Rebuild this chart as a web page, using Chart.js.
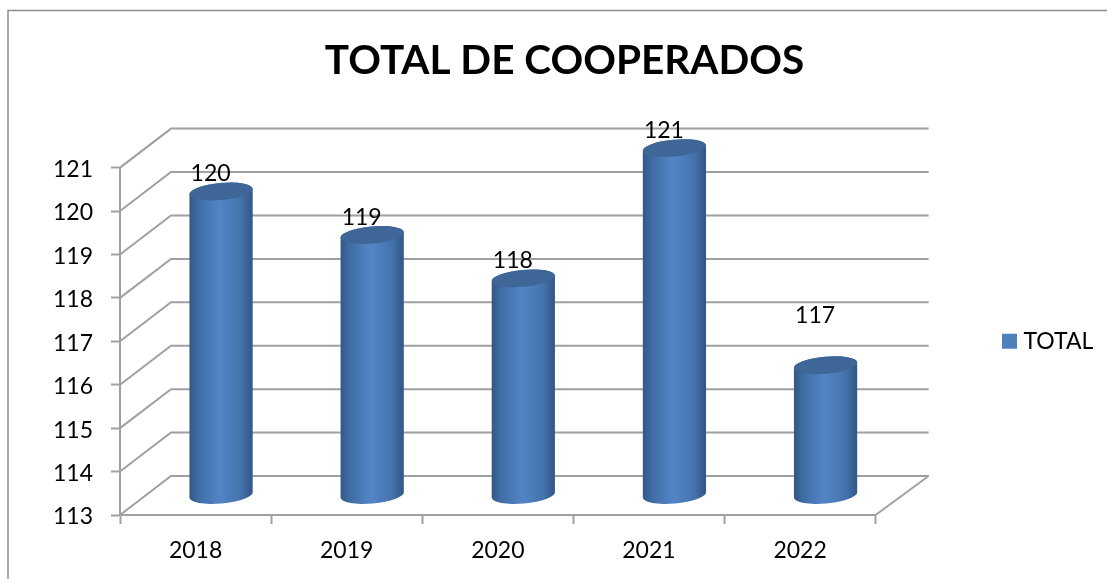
<!DOCTYPE html>
<html>
<head>
<meta charset="utf-8">
<style>
  html, body { margin: 0; padding: 0; background: #fff; }
  canvas { display: block; }
</style>
<script src="https://cdn.jsdelivr.net/npm/chart.js@4/dist/chart.umd.js"></script>
</head>
<body>
<canvas id="chart" width="1107" height="579"></canvas>
<script>
var years = ['2018', '2019', '2020', '2021', '2022'];
var totals = [120, 119, 118, 121, 116];
// the picture labels the last bar 117 although it is drawn at 116
var valueLabels = ['120', '119', '118', '121', '117'];
var seriesName = 'TOTAL';
var chartTitle = 'TOTAL DE COOPERADOS';

var gray = '#a0a0a0';
var depthX = 51, depthY = 39;

var frame3d = {
    id: 'frame3d',
    afterLayout: function (chart) {
        // title and legend do not sit where the layout wants them
        chart.titleBlock.left = 22;
        chart.titleBlock.right = 1107;
        chart.legend.left = 997;
        chart.legend.right = 1107;
    },
    beforeDatasetsDraw: function (chart) {
        var c = chart.ctx, y = chart.scales.y, area = chart.chartArea;
        c.save();
        // outer border of the chart object
        c.strokeStyle = '#8e8e8e';
        c.lineWidth = 1.5;
        c.beginPath();
        c.moveTo(8, 579);
        c.lineTo(8, 10.5);
        c.lineTo(1107, 10.5);
        c.stroke();
        // back wall
        c.strokeStyle = gray;
        c.lineWidth = 2;
        y.ticks.forEach(function (t) {
            var py = y.getPixelForValue(t.value);
            c.beginPath();
            c.moveTo(area.left, py);
            c.lineTo(area.left + depthX, py - depthY);
            c.lineTo(area.right + depthX + 2, py - depthY);
            c.stroke();
        });
        // floor edge
        c.beginPath();
        c.moveTo(area.right, area.bottom);
        c.lineTo(area.right + depthX + 2, area.bottom - depthY);
        c.stroke();
        c.restore();
    },
    beforeDatasetDraw: function (chart, args) {
        var c = chart.ctx;
        args.meta.data.forEach(function (bar, i) {
            var a = bar.width / 2, b = 8.5, rot = -0.09;
            var cx = bar.x + depthX / 2;
            var top = bar.y - depthY / 2, bottom = bar.base - depthY / 2;

            var g = c.createLinearGradient(cx - a, 0, cx + a, 0);
            g.addColorStop(0, '#315785');
            g.addColorStop(0.14, '#3f6ca4');
            g.addColorStop(0.48, '#5385c6');
            g.addColorStop(0.82, '#4472ac');
            g.addColorStop(1, '#315683');

            c.save();
            c.beginPath();
            c.ellipse(cx, bottom, a, b, rot, Math.PI, 0, true);
            c.ellipse(cx, top, a, b, rot, 0, Math.PI, true);
            c.closePath();
            c.fillStyle = g;
            c.fill();

            c.beginPath();
            c.ellipse(cx, top, a, b, rot, 0, Math.PI * 2);
            c.fillStyle = '#3e6696';
            c.fill();
            c.restore();
        });
        return false;
    },
    afterDatasetsDraw: function (chart) {
        var c = chart.ctx, meta = chart.getDatasetMeta(0);
        c.save();
        c.font = '23px Lato';
        c.fillStyle = '#000';
        c.textAlign = 'center';
        c.textBaseline = 'middle';
        valueLabels.forEach(function (text, i) {
            var py = chart.scales.y.getPixelForValue(Number(text));
            // last label was dragged down in the original
            var shift = i === 4 ? 11 : 0;
            c.fillText(text, meta.data[i].x + 15, py - 37 + shift);
        });
        c.restore();
    }
};

var ctx = document.getElementById('chart').getContext('2d');

var myChart = new Chart(ctx, {
    type: 'bar',
    data: {
        labels: years,
        datasets: [{
            label: seriesName,
            data: totals,
            base: 113,
            backgroundColor: '#4f81bd',
            // small box with a fat border: keeps the legend text close to the swatch
            borderColor: '#4f81bd',
            borderWidth: 10,
            barPercentage: 1,
            categoryPercentage: 0.42
        }]
    },
    plugins: [frame3d],
    options: {
        responsive: false,
        animation: false,
        layout: { padding: { left: 0, right: 125, top: 0, bottom: 0 } },
        plugins: {
            title: {
                display: true,
                text: chartTitle,
                color: '#000',
                font: { family: 'Lato', size: 40.5, weight: 'bold', lineHeight: 1.2 },
                padding: { top: 37, bottom: 82 }
            },
            legend: {
                position: 'right',
                fullSize: false,
                labels: {
                    color: '#000',
                    font: { family: 'Lato', size: 23 },
                    boxWidth: 5,
                    boxHeight: 5,
                    padding: 10
                }
            },
            tooltip: { enabled: false }
        },
        scales: {
            x: {
                afterFit: function (s) { s.height = 64; },
                border: { color: gray, width: 2 },
                grid: { offset: true, drawOnChartArea: false, tickLength: 9, tickColor: gray, tickWidth: 2 },
                ticks: { color: '#000', padding: 13, font: { family: 'Lato', size: 23 } }
            },
            y: {
                min: 113,
                max: 121,
                afterFit: function (s) { s.width = 120; },
                border: { color: gray, width: 2 },
                grid: { drawOnChartArea: false, tickLength: 9, tickColor: gray, tickWidth: 2 },
                ticks: { color: '#000', padding: 18, stepSize: 1, labelOffset: 2, font: { family: 'Lato', size: 23 } }
            }
        }
    }
});
</script>
</body>
</html>
